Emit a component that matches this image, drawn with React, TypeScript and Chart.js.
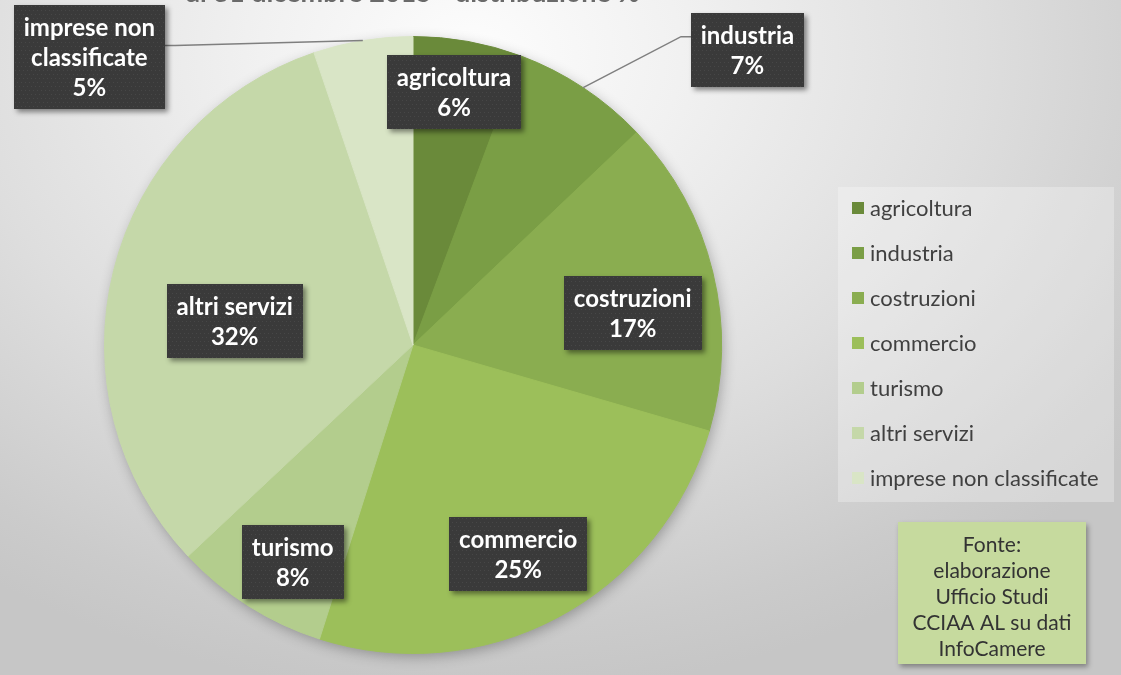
import React, { useEffect, useRef } from "react";
import { Chart, registerables } from "chart.js";

Chart.register(...registerables);

// ---------- data ----------
const categories = [
  "agricoltura",
  "industria",
  "costruzioni",
  "commercio",
  "turismo",
  "altri servizi",
  "imprese non classificate",
];
const shares = [5.7, 7.2, 16.6, 25.4, 8.1, 31.8, 5.2];
const sliceColors = ["#6a8a3a", "#7a9e45", "#8aad50", "#9cbf5a", "#b3cd8d", "#c5d8a9", "#d9e5c6"];
const labelNameLines = [
  ["agricoltura"],
  ["industria"],
  ["costruzioni"],
  ["commercio"],
  ["turismo"],
  ["altri servizi"],
  ["imprese non", "classificate"],
];
const titleText = "al 31 dicembre 2015 - distribuzione %";
const sourceLines = ["Fonte:", "elaborazione", "Ufficio Studi", "CCIAA AL su dati", "InfoCamere"];

// ---------- layout (in units of pie radius, relative to pie centre) ----------
const labelAnchors = [
  [0.133, -0.819],
  [1.084, -0.956],
  [0.712, -0.105],
  [0.341, 0.678],
  [-0.39, 0.702],
  [-0.578, -0.078],
  [-1.049, -0.934],
];
const calloutJoin = [null, 0.32, null, null, null, null, 0.39];

const W = 1121;
const H = 675;
const LABEL_FONT = "bold 24px Lato, 'Open Sans', sans-serif";
const LEGEND_FONT = "22px Lato, 'Open Sans', sans-serif";
const SOURCE_FONT = "21px Lato, 'Open Sans', sans-serif";
const TITLE_FONT = "bold 27px Lato, 'Open Sans', sans-serif";

function drawDarkBox(ctx: CanvasRenderingContext2D, x: number, y: number, w: number, h: number) {
  ctx.save();
  ctx.shadowColor = "rgba(0,0,0,0.45)";
  ctx.shadowBlur = 5;
  ctx.shadowOffsetX = 3;
  ctx.shadowOffsetY = 3;
  ctx.fillStyle = "#3a3a3a";
  ctx.fillRect(x, y, w, h);
  ctx.restore();
  ctx.save();
  ctx.beginPath();
  ctx.rect(x, y, w, h);
  ctx.clip();
  ctx.fillStyle = "rgba(255,255,255,0.07)";
  for (let yy = y + 1; yy < y + h; yy += 4) {
    for (let xx = x + 1 + ((Math.round((yy - y) / 4) % 2) * 2); xx < x + w; xx += 4) {
      ctx.fillRect(xx, yy, 1, 1);
    }
  }
  ctx.restore();
}

const overlayPlugin = {
  id: "overlay",
  beforeDatasetsDraw(chart: any) {
    const arc = chart.getDatasetMeta(0).data[0];
    if (!arc) return;
    const ctx = chart.ctx as CanvasRenderingContext2D;
    ctx.save();
    ctx.shadowColor = "rgba(0,0,0,0.3)";
    ctx.shadowBlur = 14;
    ctx.shadowOffsetX = 2;
    ctx.shadowOffsetY = 4;
    ctx.fillStyle = "#9cbf5a";
    ctx.beginPath();
    ctx.arc(arc.x, arc.y, arc.outerRadius - 1, 0, Math.PI * 2);
    ctx.fill();
    ctx.restore();
  },
  afterDatasetsDraw(chart: any) {
    const ctx = chart.ctx as CanvasRenderingContext2D;
    const meta = chart.getDatasetMeta(0);
    const values: number[] = chart.data.datasets[0].data;
    const total = values.reduce((a, b) => a + b, 0);
    meta.data.forEach((el: any, i: number) => {
      const r = el.outerRadius;
      const cx = el.x + labelAnchors[i][0] * r;
      const cy = el.y + labelAnchors[i][1] * r;
      const lines = [...labelNameLines[i], Math.round((values[i] / total) * 100) + "%"];
      ctx.font = LABEL_FONT;
      const tw = Math.max(...lines.map((l) => ctx.measureText(l).width));
      const bw = Math.round(tw + 20);
      const lh = 30;
      const bh = lines.length * lh + 14;
      const bx = Math.round(cx - bw / 2);
      const by = Math.round(cy - bh / 2);
      const join = calloutJoin[i];
      if (join !== null) {
        const mid = (el.startAngle + el.endAngle) / 2;
        const px = el.x + Math.cos(mid) * r;
        const py = el.y + Math.sin(mid) * r;
        const jy = by + join * bh;
        const left = px < bx;
        const jx = left ? bx : bx + bw;
        const ex = left ? jx - 10 : jx + 10;
        ctx.save();
        ctx.strokeStyle = "#7f7f7f";
        ctx.lineWidth = 1.5;
        ctx.beginPath();
        ctx.moveTo(px, py);
        ctx.lineTo(ex, jy);
        ctx.lineTo(jx, jy);
        ctx.stroke();
        ctx.restore();
      }
      drawDarkBox(ctx, bx, by, bw, bh);
      ctx.save();
      ctx.fillStyle = "#ffffff";
      ctx.font = LABEL_FONT;
      ctx.textAlign = "center";
      ctx.textBaseline = "middle";
      lines.forEach((l, k) => {
        ctx.fillText(l, cx, by + 7 + lh * k + lh / 2 + 1);
      });
      ctx.restore();
    });
  },
  afterDraw(chart: any) {
    const ctx = chart.ctx as CanvasRenderingContext2D;
    const arc = chart.getDatasetMeta(0).data[0];
    // title (cut off at the top edge)
    ctx.save();
    ctx.font = TITLE_FONT;
    ctx.fillStyle = "#6a6a6a";
    ctx.textAlign = "center";
    ctx.textBaseline = "alphabetic";
    ctx.fillText(titleText, arc ? arc.x : 413, 1.5);
    ctx.restore();

    // legend
    const lx = 838, ly = 187, lw = 276, lhh = 315;
    ctx.save();
    ctx.fillStyle = "rgba(255,255,255,0.28)";
    ctx.fillRect(lx, ly, lw, lhh);
    ctx.font = LEGEND_FONT;
    ctx.textBaseline = "middle";
    ctx.textAlign = "left";
    chart.data.labels.forEach((lab: string, i: number) => {
      const y = 208 + i * 45;
      ctx.fillStyle = sliceColors[i];
      ctx.fillRect(852, y - 6, 12, 12);
      ctx.fillStyle = "#404040";
      ctx.fillText(lab, 870, y + 1);
    });
    ctx.restore();

    // source box
    const sx = 898, sy = 522, sw = 188, sh = 142;
    ctx.save();
    ctx.shadowColor = "rgba(0,0,0,0.35)";
    ctx.shadowBlur = 5;
    ctx.shadowOffsetX = 2;
    ctx.shadowOffsetY = 3;
    ctx.fillStyle = "#c6da9e";
    ctx.fillRect(sx, sy, sw, sh);
    ctx.restore();
    ctx.save();
    ctx.font = SOURCE_FONT;
    ctx.fillStyle = "#333333";
    ctx.textAlign = "center";
    ctx.textBaseline = "middle";
    sourceLines.forEach((l, k) => {
      ctx.fillText(l, sx + sw / 2, 545 + k * 26);
    });
    ctx.restore();
  },
};

export default function App() {
  const ref = useRef<HTMLCanvasElement | null>(null);
  useEffect(() => {
    if (!ref.current) return;
    const chart = new Chart(ref.current, {
      type: "pie",
      data: {
        labels: categories,
        datasets: [
          {
            data: shares,
            backgroundColor: sliceColors,
            borderColor: sliceColors,
            borderWidth: 1,
          },
        ],
      },
      options: {
        animation: false,
        responsive: false,
        maintainAspectRatio: false,
        layout: { padding: { left: 104, right: 399, top: 36, bottom: 21 } },
        plugins: {
          legend: { display: false },
          tooltip: { enabled: false },
          title: { display: false },
        },
      },
      plugins: [overlayPlugin],
    });
    return () => chart.destroy();
  }, []);
  return (
    <div
      style={{
        position: "fixed",
        left: 0,
        top: 0,
        width: W,
        height: H,
        overflow: "hidden",
        background:
          "radial-gradient(ellipse 75% 95% at 42% 8%, #fdfdfd 0%, #f1f1f1 25%, #dedede 60%, #cbcbcb 90%, #c6c6c6 100%)",
      }}
    >
      <canvas ref={ref} width={W} height={H} style={{ display: "block", width: W, height: H }} />
    </div>
  );
}
